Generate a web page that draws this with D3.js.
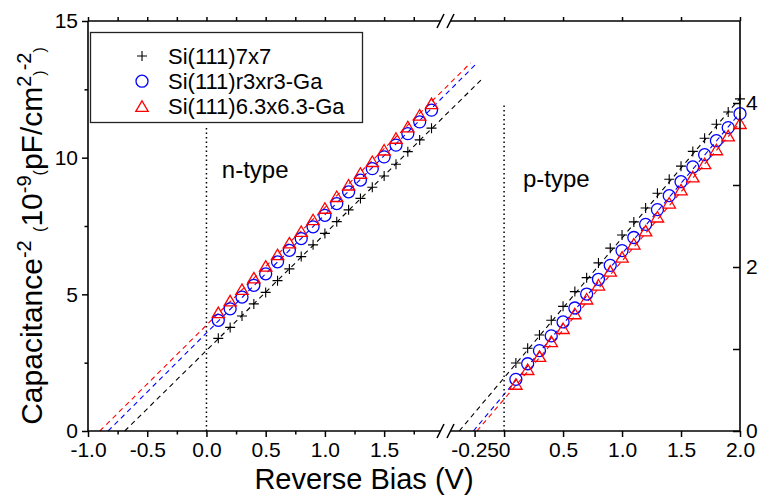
<!DOCTYPE html>
<html>
<head>
<meta charset="utf-8">
<script src="https://cdn.jsdelivr.net/npm/d3@7"></script>
<style>
  body { margin: 0; background: #fff; }
  text { font-family: Arial, "Liberation Sans", sans-serif; fill: #000; }
</style>
</head>
<body>
<div id="chart"></div>
<script>
// n-type side (left y axis, 10^-9 pF/cm2)^-2
const nBias = [0.1, 0.2, 0.3, 0.4, 0.5, 0.6, 0.7, 0.8, 0.9, 1.0, 1.1, 1.2, 1.3, 1.4, 1.5, 1.6, 1.7, 1.8, 1.9];
const nSi7x7 = [3.39, 3.79, 4.21, 4.65, 5.07, 5.50, 5.93, 6.38, 6.81, 7.23, 7.66, 8.09, 8.51, 8.92, 9.33, 9.76, 10.22, 10.65, 11.08];
const nSiR3 = [4.05, 4.47, 4.90, 5.33, 5.75, 6.19, 6.61, 7.04, 7.47, 7.89, 8.32, 8.75, 9.18, 9.60, 10.03, 10.46, 10.88, 11.31, 11.74];
const nSi63 = [4.33, 4.76, 5.18, 5.60, 6.03, 6.45, 6.88, 7.30, 7.73, 8.15, 8.58, 9.00, 9.43, 9.86, 10.28, 10.71, 11.13, 11.56, 11.98];
// dashed fits, read at both ends [bias, value]
const nFit7x7 = [[-0.69, 0], [2.32, 12.85]];
const nFitR3 = [[-0.83, 0], [2.27, 13.40]];
const nFit63 = [[-0.90, 0], [2.23, 13.47]];

// p-type side (right y axis)
const pBias = [0.1, 0.2, 0.3, 0.4, 0.5, 0.6, 0.7, 0.8, 0.9, 1.0, 1.1, 1.2, 1.3, 1.4, 1.5, 1.6, 1.7, 1.8, 1.9, 2.0];
const pSi7x7 = [0.83, 1.01, 1.17, 1.35, 1.52, 1.70, 1.87, 2.05, 2.23, 2.39, 2.55, 2.72, 2.90, 3.07, 3.23, 3.41, 3.57, 3.74, 3.89, 4.05];
const pSiR3 = [0.63, 0.82, 0.98, 1.16, 1.33, 1.50, 1.67, 1.85, 2.02, 2.20, 2.36, 2.52, 2.70, 2.87, 3.04, 3.22, 3.37, 3.54, 3.70, 3.87];
const pSi63 = [0.57, 0.75, 0.91, 1.09, 1.25, 1.43, 1.61, 1.78, 1.95, 2.12, 2.28, 2.44, 2.61, 2.78, 2.94, 3.10, 3.26, 3.43, 3.60, 3.75];
const pFit7x7 = [[-0.38, 0], [2.0, 4.06]];
const pFitR3 = [[-0.26, 0], [2.0, 3.88]];
const pFit63 = [[-0.23, 0], [2.0, 3.76]];

const seriesNames = ["Si(111)7x7", "Si(111)r3xr3-Ga", "Si(111)6.3x6.3-Ga"];
const seriesColors = ["#000000", "#0000ff", "#ff0000"];
const seriesShapes = ["cross", "circle", "triangle"];

const leftTicks = [0, 5, 10, 15];
const leftMinor = [2.5, 7.5, 12.5];
const rightTicks = [0, 1, 2, 3, 4];
const rightLabels = ["0", "", "2", "", "4"];
const nXTicks = [-1.0, -0.5, 0.0, 0.5, 1.0, 1.5];
const nXMinor = [-0.75, -0.25, 0.25, 0.75, 1.25, 1.75];
const pXTicks = [-0.25, 0, 0.5, 1.0, 1.5, 2.0];
const pXLabels = ["-0.25", "0", "0.5", "1.0", "1.5", "2.0"];

// vertical dotted markers at 0 V: [bias, top value]
const nZeroLine = [0, 11.1];
const pZeroLine = [0, 3.98];

const width = 762, height = 502;
const plotTop = 21, plotBottom = 431, plotLeft = 88, plotRight = 740;
const breakL = 441, breakR = 450;

const svg = d3.select("#chart").append("svg")
  .attr("width", width)
  .attr("height", height);

const xN = d3.scaleLinear().domain([-1.0, 1.98]).range([plotLeft, breakL]);
const xP = d3.scaleLinear().domain([-0.45, 2.0]).range([breakR + 1, plotRight]);
const yL = d3.scaleLinear().domain([0, 15]).range([plotBottom, plotTop]);
const yR = d3.scaleLinear().domain([0, 5]).range([plotBottom, plotTop]);

const markerPath = {
  cross: "M-5,0H5M0,-5V5",
  circle: "M6,0A6,6 0 1,1 -6,0A6,6 0 1,1 6,0Z",
  triangle: "M0,-5.5L6.2,5L-6.2,5Z"
};

// dashed fit lines
const line = d3.line();
function fitLine(pts, xs, ys, color) {
  svg.append("path")
    .attr("d", line(pts.map(p => [xs(p[0]), ys(p[1])])))
    .attr("fill", "none")
    .attr("stroke", color)
    .attr("stroke-width", 1.1)
    .attr("stroke-dasharray", "5,4");
}
[nFit7x7, nFitR3, nFit63].forEach((f, i) => fitLine(f, xN, yL, seriesColors[i]));
[pFit7x7, pFitR3, pFit63].forEach((f, i) => fitLine(f, xP, yR, seriesColors[i]));

// dotted lines at 0 V
svg.append("line")
  .attr("x1", xN(nZeroLine[0])).attr("x2", xN(nZeroLine[0]))
  .attr("y1", yL(0)).attr("y2", yL(nZeroLine[1]))
  .attr("stroke", "#000").attr("stroke-width", 1.5).attr("stroke-dasharray", "1.5,3");
svg.append("line")
  .attr("x1", xP(pZeroLine[0])).attr("x2", xP(pZeroLine[0]))
  .attr("y1", yR(0)).attr("y2", yR(pZeroLine[1]))
  .attr("stroke", "#000").attr("stroke-width", 1.5).attr("stroke-dasharray", "1.5,3");

// symbols
function points(xv, yv, xs, ys, i) {
  svg.append("g").selectAll("path")
    .data(xv.map((x, k) => [x, yv[k]]))
    .join("path")
    .attr("transform", d => `translate(${xs(d[0])},${ys(d[1])})`)
    .attr("d", markerPath[seriesShapes[i]])
    .attr("fill", "none")
    .attr("stroke", seriesColors[i])
    .attr("stroke-width", i === 0 ? 1.1 : 1.3);
}
[nSi7x7, nSiR3, nSi63].forEach((v, i) => points(nBias, v, xN, yL, i));
[pSi7x7, pSiR3, pSi63].forEach((v, i) => points(pBias, v, xP, yR, i));

// axes
function styleAxis(g) {
  g.select(".domain").remove();
  g.selectAll(".tick line").attr("stroke", "#000").attr("stroke-width", 1.5);
  g.selectAll(".tick text").attr("font-size", 21).attr("fill", "#000")
    .style("font-family", "Arial, 'Liberation Sans', sans-serif");
}

svg.append("g").attr("transform", `translate(0,${plotBottom})`)
  .call(d3.axisBottom(xN).tickValues(nXTicks).tickSize(6).tickPadding(5).tickFormat(d => d.toFixed(1)))
  .call(styleAxis);
svg.append("g").attr("transform", `translate(0,${plotBottom})`)
  .call(d3.axisBottom(xN).tickValues(nXMinor).tickSize(3.5).tickFormat(""))
  .call(styleAxis);
svg.append("g").attr("transform", `translate(0,${plotBottom})`)
  .call(d3.axisBottom(xP).tickValues(pXTicks).tickSize(6).tickPadding(5).tickFormat((d, i) => pXLabels[i]))
  .call(styleAxis);

svg.append("g").attr("transform", `translate(0,${plotTop})`)
  .call(d3.axisTop(xN).tickValues(nXTicks.concat(nXMinor)).tickSize(4).tickFormat(""))
  .call(styleAxis);
svg.append("g").attr("transform", `translate(0,${plotTop})`)
  .call(d3.axisTop(xP).tickValues(pXTicks).tickSize(4).tickFormat(""))
  .call(styleAxis);

svg.append("g").attr("transform", `translate(${plotLeft},0)`)
  .call(d3.axisLeft(yL).tickValues(leftTicks).tickSize(6).tickPadding(4).tickFormat(d => d))
  .call(styleAxis);
svg.append("g").attr("transform", `translate(${plotLeft},0)`)
  .call(d3.axisLeft(yL).tickValues(leftMinor).tickSize(3.5).tickFormat(""))
  .call(styleAxis);

svg.append("g").attr("transform", `translate(${plotRight},0)`)
  .call(d3.axisRight(yR).tickValues(rightTicks).tickSize(-7).tickPadding(6).tickFormat((d, i) => rightLabels[i]))
  .call(styleAxis);

// frame with axis break
const frame = svg.append("g").attr("stroke", "#000").attr("stroke-width", 1.6).attr("fill", "none");
frame.append("line").attr("x1", plotLeft).attr("x2", plotLeft).attr("y1", plotTop).attr("y2", plotBottom);
frame.append("line").attr("x1", plotRight).attr("x2", plotRight).attr("y1", plotTop).attr("y2", plotBottom);
[plotTop, plotBottom].forEach(y => {
  frame.append("line").attr("x1", plotLeft).attr("x2", breakL).attr("y1", y).attr("y2", y);
  frame.append("line").attr("x1", breakR).attr("x2", plotRight).attr("y1", y).attr("y2", y);
  frame.append("line").attr("x1", breakL - 4).attr("x2", breakL + 3).attr("y1", y + 7).attr("y2", y - 7);
  frame.append("line").attr("x1", breakR - 3).attr("x2", breakR + 4).attr("y1", y + 7).attr("y2", y - 7);
});

// annotations
svg.append("text").attr("x", xN(0.13)).attr("y", 178).attr("font-size", 24).text("n-type");
svg.append("text").attr("x", xP(0.16)).attr("y", 187).attr("font-size", 24).text("p-type");

// legend
const legend = svg.append("g");
legend.append("rect")
  .attr("x", 90.5).attr("y", 32.5).attr("width", 272).attr("height", 90)
  .attr("fill", "#fff").attr("stroke", "#222").attr("stroke-width", 1.3);
seriesNames.forEach((name, i) => {
  const cy = 56 + i * 25.2;
  legend.append("path")
    .attr("transform", `translate(142,${cy})`)
    .attr("d", markerPath[seriesShapes[i]])
    .attr("fill", "none")
    .attr("stroke", seriesColors[i])
    .attr("stroke-width", i === 0 ? 1.1 : 1.3);
  legend.append("text").attr("x", 168).attr("y", cy + 8).attr("font-size", 22).text(name);
});

// axis titles
svg.append("text")
  .attr("x", 364).attr("y", 489)
  .attr("text-anchor", "middle")
  .attr("font-size", 29)
  .text("Reverse Bias (V)");

const yTitle = svg.append("text")
  .attr("transform", "translate(42,236) rotate(-90)")
  .attr("text-anchor", "middle")
  .attr("font-size", 30);
yTitle.append("tspan").text("Capacitance");
yTitle.append("tspan").attr("font-size", 20).attr("dy", -11).text("-2");
yTitle.append("tspan").attr("dy", 11).text(" ");
yTitle.append("tspan").attr("font-size", 16).attr("dy", 3).text("(");
yTitle.append("tspan").attr("dy", -3).text("10");
yTitle.append("tspan").attr("font-size", 20).attr("dy", -11).text("-9");
yTitle.append("tspan").attr("font-size", 16).attr("dy", 14).text("(");
yTitle.append("tspan").attr("dy", -3).text("pF/cm");
yTitle.append("tspan").attr("font-size", 20).attr("dy", -11).text("2");
yTitle.append("tspan").attr("font-size", 16).attr("dy", 14).text(")");
yTitle.append("tspan").attr("font-size", 20).attr("dy", -14).text("-2");
yTitle.append("tspan").attr("font-size", 16).attr("dy", 14).text(")");
</script>
</body>
</html>
